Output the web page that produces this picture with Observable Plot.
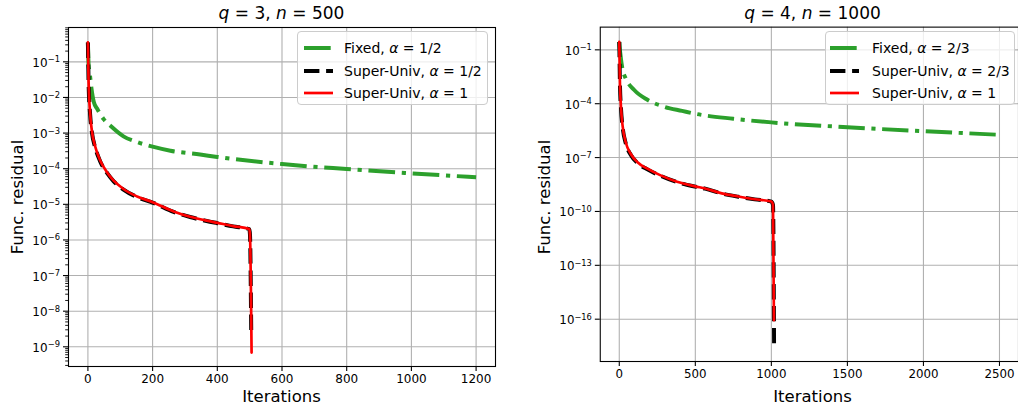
<!DOCTYPE html>
<html>
<head>
<meta charset="utf-8">
<script src="https://cdn.jsdelivr.net/npm/d3@7"></script>
<script src="https://cdn.jsdelivr.net/npm/@observablehq/plot@0.6"></script>
<style>
  html, body { margin: 0; padding: 0; background: #fff; }
  body { width: 1018px; height: 406px; overflow: hidden; position: relative; font-family: "DejaVu Sans", sans-serif; color: #000; }
  .panel { position: absolute; top: 0; }
  .title { position: absolute; font-size: 17px; line-height: 17px; white-space: nowrap; transform: translateX(-50%); }
  .xlabel { position: absolute; font-size: 16.5px; line-height: 16.5px; white-space: nowrap; transform: translateX(-50%); }
  .ylabel { position: absolute; font-size: 16.5px; line-height: 16.5px; white-space: nowrap; transform: translate(-50%, -50%) rotate(-90deg); }
  .legend { position: absolute; box-sizing: border-box; background: rgba(255,255,255,0.8); border: 1px solid #cccccc; border-radius: 4px; }
  .legend .row { position: absolute; left: 0; height: 20px; font-size: 14px; line-height: 20px; white-space: nowrap; }
  .legend svg { position: absolute; top: 0; }
  .legend span { position: absolute; top: 0; }
</style>
</head>
<body>
<div id="left" class="panel" style="left:0px"></div>
<div id="right" class="panel" style="left:510px"></div>

<div class="title" style="left:281.5px; top:5px"><i>q</i> = 3, <i>n</i> = 500</div>
<div class="title" style="left:812.5px; top:5px"><i>q</i> = 4, <i>n</i> = 1000</div>
<div class="xlabel" style="left:281.5px; top:389px">Iterations</div>
<div class="xlabel" style="left:812.5px; top:389px">Iterations</div>
<div class="ylabel" style="left:18px; top:196.5px">Func. residual</div>
<div class="ylabel" style="left:545px; top:196.5px">Func. residual</div>

<div id="legL" class="legend" style="left:297px; top:31px; width:191px; height:74px"></div>
<div id="legR" class="legend" style="left:825px; top:31px; width:190px; height:74px"></div>

<script>
// ---------- Left panel (q = 3, n = 500) ----------
const leftFixedIter = [0, 2, 6, 11, 18, 30, 48, 74, 110, 152, 203, 255, 347, 400, 600, 800, 1000, 1200];
const leftFixedVal  = [0.35, 0.089, 0.0447, 0.0178, 7.6e-3, 4.57e-3, 2.51e-3, 1.48e-3, 8.1e-4, 5.6e-4, 4.1e-4, 3.2e-4, 2.5e-4, 2.14e-4, 1.35e-4, 9.8e-5, 7.4e-5, 5.75e-5];

const leftSU12Iter = [0, 1, 2, 7, 12, 23, 38, 59, 79, 110, 152, 200, 265, 316, 367, 400, 449, 499, 501, 505];
const leftSU12Val  = [0.35, 0.095, 0.028, 3.2e-3, 1.1e-3, 3.8e-4, 1.6e-4, 7.6e-5, 4.5e-5, 2.6e-5, 1.6e-5, 1.12e-5, 6.1e-6, 4.4e-6, 3.4e-6, 2.95e-6, 2.4e-6, 2.0e-6, 1.4e-6, 1.9e-9];

const leftSU1Iter = [0, 1, 2, 7, 12, 23, 38, 59, 79, 110, 152, 200, 265, 316, 367, 400, 449, 499, 501, 506];
const leftSU1Val  = [0.35, 0.1, 0.0302, 3.47e-3, 1.2e-3, 4.07e-4, 1.7e-4, 7.94e-5, 4.68e-5, 2.69e-5, 1.66e-5, 1.15e-5, 6.31e-6, 4.47e-6, 3.47e-6, 3.02e-6, 2.45e-6, 2.04e-6, 1.41e-6, 6.9e-10];

const leftXTicks = [0, 200, 400, 600, 800, 1000, 1200];
const leftYTicks = [1e-9, 1e-8, 1e-7, 1e-6, 1e-5, 1e-4, 1e-3, 1e-2, 1e-1];
const leftLegend = ["Fixed, <i>α</i> = 1/2", "Super-Univ, <i>α</i> = 1/2", "Super-Univ, <i>α</i> = 1"];

// ---------- Right panel (q = 4, n = 1000) ----------
const rightFixedIter = [0, 3, 7, 14, 22, 43, 100, 185, 300, 413, 500, 750, 1000, 1500, 2000, 2500];
const rightFixedVal  = [0.275, 0.126, 0.063, 0.02, 7.9e-3, 2.5e-3, 5.6e-4, 1.66e-4, 6.6e-5, 4.0e-5, 2.75e-5, 1.45e-5, 9.1e-6, 4.9e-6, 2.95e-6, 1.86e-6];

const rightSU23Iter = [0, 2, 4, 11, 22, 43, 76, 120, 185, 272, 380, 500, 565, 674, 783, 891, 1000, 1011, 1018];
const rightSU23Val  = [0.275, 0.022, 1.8e-3, 6.0e-5, 5.0e-6, 6.0e-7, 1.4e-7, 5.0e-8, 2.2e-8, 9.6e-9, 4.3e-9, 2.4e-9, 1.85e-9, 1.0e-9, 6.6e-10, 4.7e-10, 3.5e-10, 2.3e-10, 3.0e-18];

const rightSU1Iter = [0, 2, 4, 11, 22, 43, 76, 120, 185, 272, 380, 500, 565, 674, 783, 891, 1000, 1011, 1017];
const rightSU1Val  = [0.275, 0.025, 2.1e-3, 7.1e-5, 5.8e-6, 6.9e-7, 1.58e-7, 5.5e-8, 2.4e-8, 1.02e-8, 4.5e-9, 2.5e-9, 1.9e-9, 1.02e-9, 6.8e-10, 4.8e-10, 3.55e-10, 2.34e-10, 8.7e-17];

const rightXTicks = [0, 500, 1000, 1500, 2000, 2500];
const rightYTicks = [1e-16, 1e-13, 1e-10, 1e-7, 1e-4, 1e-1];
const rightLegend = ["Fixed, <i>α</i> = 2/3", "Super-Univ, <i>α</i> = 2/3", "Super-Univ, <i>α</i> = 1"];

// ---------- styles ----------
const GREEN = "#2ca02c", BLACK = "#000000", RED = "#ff0000";
const styles = [
  {stroke: GREEN, strokeWidth: 4, dash: "26.7,6.7,4.2,6.7", cap: "butt"},
  {stroke: BLACK, strokeWidth: 4, dash: "15.4,6.7", cap: "butt"},
  {stroke: RED, strokeWidth: 2.7, dash: null, cap: "round"}
];

const supMap = {"-": "\u207B", "0": "\u2070", "1": "\u00B9", "2": "\u00B2", "3": "\u00B3", "4": "\u2074", "5": "\u2075", "6": "\u2076", "7": "\u2077", "8": "\u2078", "9": "\u2079"};
const unsupMap = Object.fromEntries(Object.entries(supMap).map(([k, v]) => [v, k]));
const sup = n => String(n).split("").map(c => supMap[c]).join("");
const fmtPow = d => "10" + sup(Math.round(Math.log10(d)));

function toRows(iter, val) { return iter.map((x, i) => ({x, y: val[i]})); }

// turn "10⁻¹" labels into "10" + a raised, smaller exponent (mathtext look)
function styleExponents(svg) {
  const NS = "http://www.w3.org/2000/svg";
  svg.querySelectorAll("text").forEach(t => {
    const s = t.textContent;
    if (!s || !s.startsWith("10") || s.length < 3 || !(s[2] in unsupMap)) return;
    const exp = s.slice(2).split("").map(c => unsupMap[c] ?? c).join("").replace("-", "\u2212");
    while (t.firstChild) t.removeChild(t.firstChild);
    const base = document.createElementNS(NS, "tspan");
    base.setAttribute("dy", "1.2");
    base.textContent = "10";
    const e = document.createElementNS(NS, "tspan");
    e.setAttribute("dy", "-4.6");
    e.setAttribute("font-size", "8.4");
    e.textContent = exp;
    t.append(base, e);
  });
}

function panel({width, marginLeft, marginRight, xDomain, yDomain, xTicks, yTicks, minor, series}) {
  const lineMarks = series.map((s, i) => Plot.line(toRows(s.iter, s.val), {
    x: "x", y: "y", stroke: styles[i].stroke, strokeWidth: styles[i].strokeWidth,
    strokeDasharray: styles[i].dash, strokeLinecap: styles[i].cap, strokeLinejoin: "round",
    curve: "monotone-x"
  }));
  const marks = [
    Plot.gridX(xTicks, {stroke: "#b0b0b0", strokeOpacity: 1, strokeWidth: 1.1}),
    Plot.gridY(yTicks, {stroke: "#b0b0b0", strokeOpacity: 1, strokeWidth: 1.1}),
    ...lineMarks,
    Plot.frame({stroke: "#000", strokeWidth: 1.1}),
    Plot.axisX({ticks: xTicks, tickSize: 5, tickPadding: 3, fontSize: 12, label: null, tickFormat: d => String(d), stroke: "#000", strokeWidth: 1.1}),
    Plot.axisY({ticks: yTicks, tickSize: 5, tickPadding: 3.5, fontSize: 12, label: null, tickFormat: fmtPow, stroke: "#000", strokeWidth: 1.1})
  ];
  if (minor.length) {
    marks.push(Plot.axisY({ticks: minor, tickSize: 2.8, tickFormat: () => "", label: null, stroke: "#000", strokeWidth: 0.9}));
  }
  const svg = Plot.plot({
    width, height: 406,
    marginTop: 27, marginBottom: 40, marginLeft, marginRight,
    x: {domain: xDomain},
    y: {type: "log", domain: yDomain},
    style: {fontFamily: "DejaVu Sans", fontSize: "12px", color: "#000", background: "transparent", overflow: "visible"},
    marks
  });
  styleExponents(svg);
  return svg;
}

const leftYDomain = [2.8e-10, 0.92];
const leftMinor = [];
for (let k = -10; k <= 0; k++) for (let m = 2; m <= 9; m++) {
  const v = m * Math.pow(10, k);
  if (v >= leftYDomain[0] && v <= leftYDomain[1]) leftMinor.push(v);
}

document.getElementById("left").append(panel({
  width: 510, marginLeft: 68, marginRight: 15,
  xDomain: [-60, 1260], yDomain: leftYDomain,
  xTicks: leftXTicks, yTicks: leftYTicks, minor: leftMinor,
  series: [
    {iter: leftFixedIter, val: leftFixedVal},
    {iter: leftSU12Iter, val: leftSU12Val},
    {iter: leftSU1Iter, val: leftSU1Val}
  ]
}));

document.getElementById("right").append(panel({
  width: 515, marginLeft: 91, marginRight: 0,
  xDomain: [-125, 2625], yDomain: [4.4e-19, 1.84],
  xTicks: rightXTicks, yTicks: rightYTicks, minor: [],
  series: [
    {iter: rightFixedIter, val: rightFixedVal},
    {iter: rightSU23Iter, val: rightSU23Val},
    {iter: rightSU1Iter, val: rightSU1Val}
  ]
}));

function legend(id, labels, handleLeft, textLeft) {
  const box = document.getElementById(id);
  const rowTops = [6, 28.5, 51];
  labels.forEach((lab, i) => {
    const s = styles[i];
    const row = document.createElement("div");
    row.className = "row";
    row.style.top = rowTops[i] + "px";
    row.style.width = "100%";
    row.innerHTML =
      `<svg width="30" height="20" style="left:${handleLeft}px"><line x1="0" x2="29" y1="10" y2="10" stroke="${s.stroke}" stroke-width="${s.strokeWidth}" ${s.dash ? `stroke-dasharray="${s.dash}"` : ""} stroke-linecap="butt"/></svg>` +
      `<span style="left:${textLeft}px">${lab}</span>`;
    box.append(row);
  });
}
legend("legL", leftLegend, 6, 46);
legend("legR", rightLegend, 4, 46);
</script>
</body>
</html>
